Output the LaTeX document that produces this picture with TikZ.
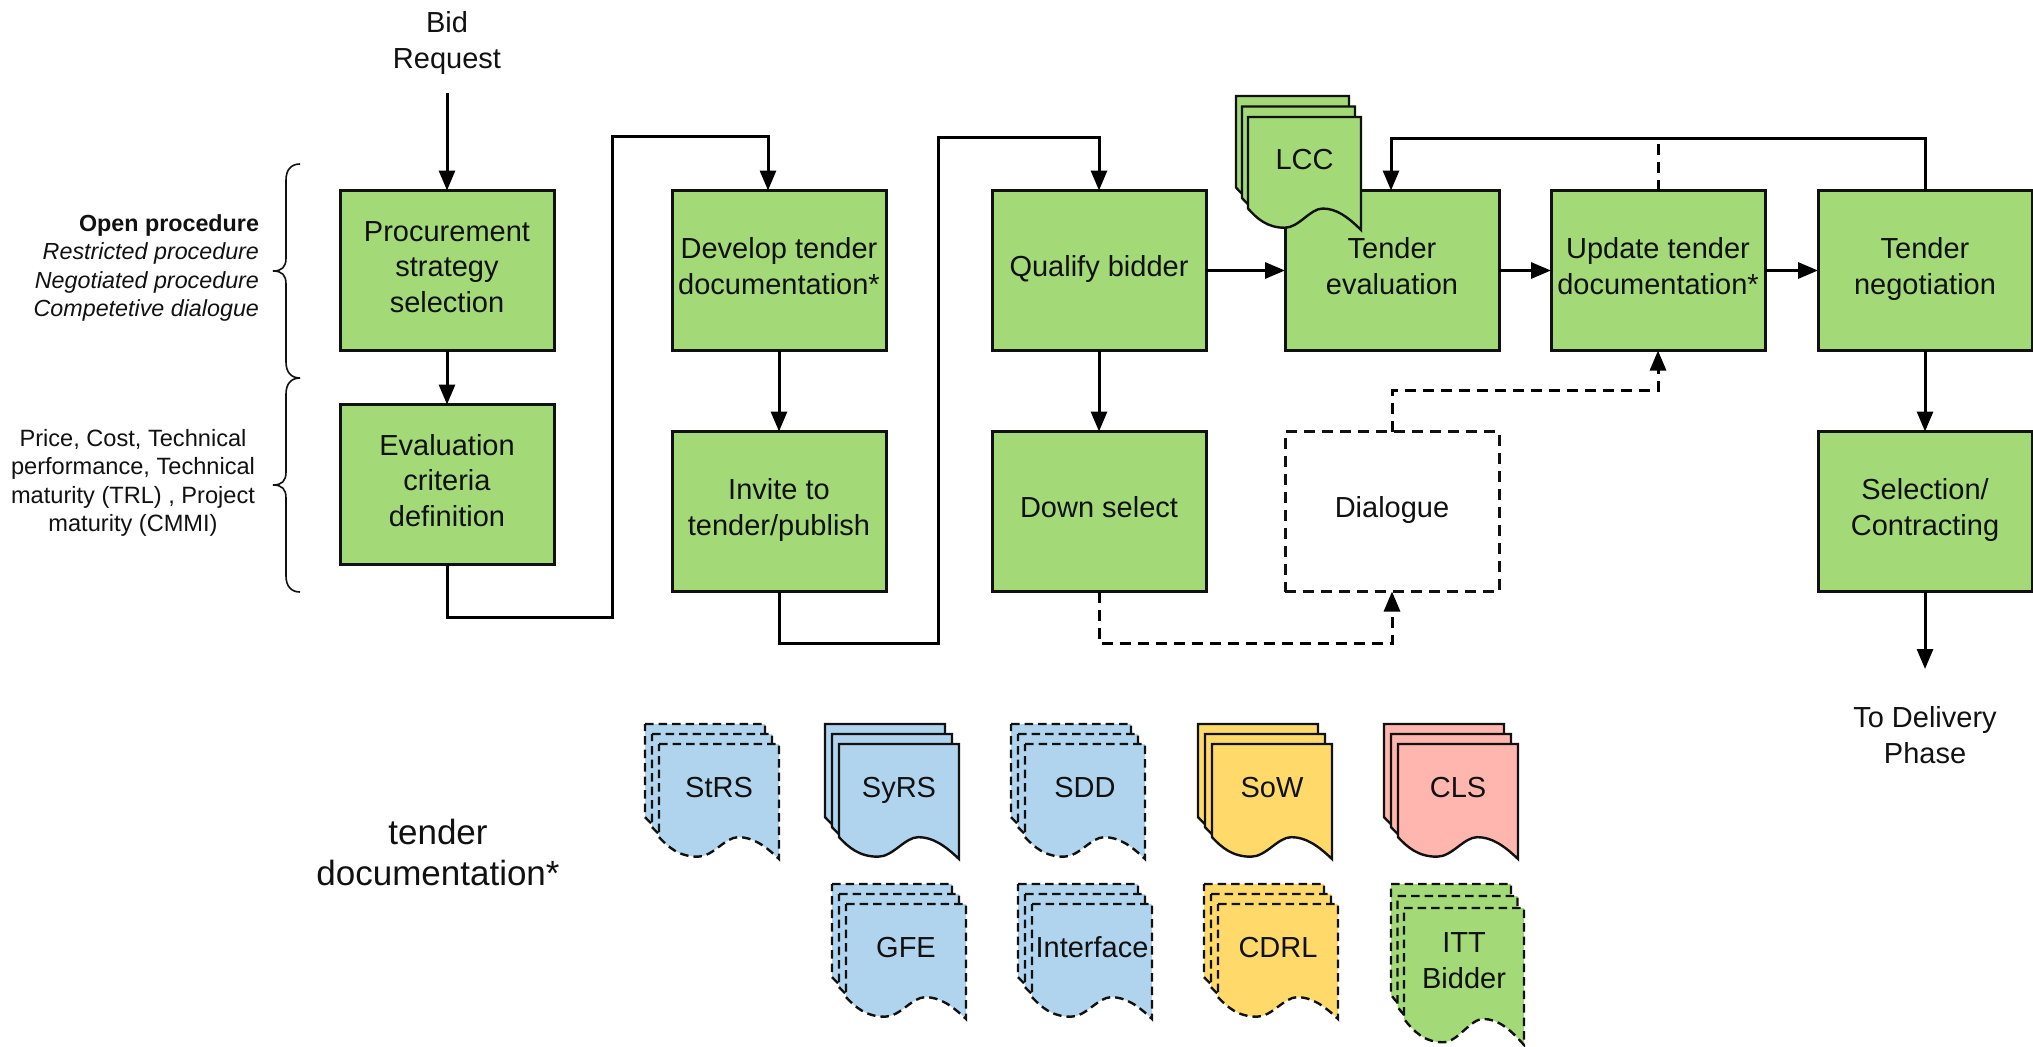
\documentclass[tikz,border=0pt]{standalone}
\usepackage{fontspec}
\setmainfont{Liberation Sans}
\usetikzlibrary{arrows.meta,calc}
\definecolor{gfill}{HTML}{A3D977}
\definecolor{bfill}{HTML}{B1D4EE}
\definecolor{yfill}{HTML}{FFDA6A}
\definecolor{pfill}{HTML}{FFB6AE}
\definecolor{ink}{HTML}{111111}
\newcommand{\st}{\rule[-11pt]{0pt}{34pt}}
\newcommand{\sheet}[5]{%
  \begin{scope}[shift={(#1,#2)},x=#3pt,y=-#4pt]
    \draw[#5] (0,0) -- (1,0) -- (1,1) .. controls (.88,.88) and (.78,.81) .. (.66,.81)
      .. controls (.55,.81) and (.45,.98) .. (.325,.98)
      .. controls (.17,.98) and (.08,.90) .. (0,.81) -- cycle;
  \end{scope}}
% name, x, y, w, h, dx, dy, style, text
\newcommand{\docstack}[9]{%
  \sheet{{#2-2*#6}}{{#3-2*#7}}{#4}{#5}{#8}
  \sheet{{#2-#6}}{{#3-#7}}{#4}{#5}{#8}
  \sheet{#2}{#3}{#4}{#5}{#8}
  \node[lbl] (#1) at ({#2+#4/2},{#3+.413*#5}) {#9};}
\newcommand{\curly}[1]{%
  \begin{scope}[shift={(0,#1)}]
    \draw[bracket] (300,0) .. controls (291,0) and (286,6) .. (286,16) -- (286,94)
      .. controls (286,103) and (282,107) .. (273,107)
      .. controls (282,107) and (286,111) .. (286,120) -- (286,198)
      .. controls (286,208) and (291,214) .. (300,214);
  \end{scope}}
\tikzset{
  box/.style={draw=ink,line width=3pt,fill=gfill,minimum width=214pt,minimum height=160pt,inner sep=0pt,outer sep=0pt,align=center,font=\fontsize{29}{35.5}\selectfont,text=ink},
  dlgbox/.style={box,fill=white,dash pattern=on 11pt off 7pt},
  lbl/.style={inner sep=0pt,outer sep=0pt,align=center,font=\fontsize{29}{35.5}\selectfont,text=ink},
  sidelbl/.style={inner sep=0pt,outer sep=0pt,font=\fontsize{23.6}{28.4}\selectfont,text=ink},
  listlbl/.style={sidelbl,font=\fontsize{23.3}{28.4}\selectfont},
  arr/.style={draw=black,line width=3pt,-{Triangle[length=20pt,width=16pt]}},
  flow/.style={draw=black,line width=3pt},
  darr/.style={arr,dash pattern=on 11pt off 7pt},
  dflow/.style={flow,dash pattern=on 11pt off 7pt},
  bracket/.style={draw=ink,line width=1.6pt},
  solidsheet/.style={draw=ink,line width=2.4pt,line join=miter},
  dashsheet/.style={draw=ink,line width=2.4pt,dash pattern=on 8.5pt off 5pt},
  gs/.style={solidsheet,fill=gfill}, bs/.style={solidsheet,fill=bfill},
  ys/.style={solidsheet,fill=yfill}, ps/.style={solidsheet,fill=pfill},
  gd/.style={dashsheet,fill=gfill}, bd/.style={dashsheet,fill=bfill},
  yd/.style={dashsheet,fill=yfill},
}
\begin{document}
\begin{tikzpicture}[x=1pt,y=-1pt]
\useasboundingbox (0,0) rectangle (2033,1046);
% boxes
\node[box] (proc) at (447,270.5) {\st Procurement\\\st strategy\\\st selection};
\node[box] (eval) at (447,484.5) {\st Evaluation\\\st criteria\\\st definition};
\node[box] (dev) at (779,270.5) {\st Develop tender\\\st documentation*};
\node[box] (inv) at (779,511.5) {\st Invite to\\\st tender/publish};
\node[box] (qual) at (1099,270.5) {\st Qualify bidder};
\node[box] (down) at (1099,511.5) {\st Down select};
\node[box] (teval) at (1392,270.5) {\st Tender\\\st evaluation};
\node[box] (upd) at (1658,270.5) {\st Update tender\\\st documentation*};
\node[box] (neg) at (1925,270.5) {\st Tender\\\st negotiation};
\node[box] (sel) at (1925,511.5) {\st Selection/\\\st Contracting};
\node[dlgbox] (dlg) at (1392,511.5) {\st Dialogue};
% free texts
\node[lbl] (bid) at (447,43) {Bid\\Request};
\node[lbl] (todel) at (1925,735) {To Delivery\\Phase};
\node[listlbl,align=right,anchor=east] (proclist) at (259,268) {\textbf{Open procedure}\\\textit{Restricted procedure}\\\textit{Negotiated procedure}\\\textit{Competetive dialogue}};
\node[sidelbl,align=center] (crit) at (133,483) {Price, Cost, Technical\\performance, Technical\\maturity (TRL) , Project\\maturity (CMMI)};
\node[inner sep=0pt,align=center,font=\fontsize{35}{41}\selectfont,text=ink] (tdoc) at (438,852) {tender\\documentation*};
\curly{164}
\curly{378}
% coordinates
\coordinate (bidend) at (447,93);
\coordinate (a1) at (447,617);
\coordinate (a2) at (612,617);
\coordinate (a3) at (612,136);
\coordinate (a4) at (768,136);
\coordinate (a5) at (768,190.5);
\coordinate (b1) at (779,643);
\coordinate (b2) at (938.5,643);
\coordinate (b3) at (938.5,137);
\coordinate (b4) at (1099,137);
\coordinate (c1) at (1925,138);
\coordinate (c2) at (1391,138);
\coordinate (c3) at (1391,190.5);
\coordinate (c4) at (1658,138);
\coordinate (d1) at (1099,643);
\coordinate (d2) at (1392,643);
\coordinate (e1) at (1392,390);
\coordinate (e2) at (1658,390);
\coordinate (f1) at (1925,669);
% connectors
\draw[arr] (bidend) -- (proc.north);
\draw[arr] (proc.south) -- (eval.north);
\draw[arr] (eval.south) -- (a1) -- (a2) -- (a3) -- (a4) -- (a5);
\draw[arr] (dev.south) -- (inv.north);
\draw[arr] (inv.south) -- (b1) -- (b2) -- (b3) -- (b4) -- (qual.north);
\draw[arr] (qual.south) -- (down.north);
\draw[arr] (qual.east) -- (teval.west);
\draw[arr] (teval.east) -- (upd.west);
\draw[arr] (upd.east) -- (neg.west);
\draw[arr] (neg.north) -- (c1) -- (c2) -- (c3);
\draw[dflow] (upd.north) -- (c4);
\draw[arr] (neg.south) -- (sel.north);
\draw[arr] (sel.south) -- (f1);
\draw[darr] (down.south) -- (d1) -- (d2) -- (dlg.south);
\draw[darr] (dlg.north) -- (e1) -- (e2) -- (upd.south);
% documents
\docstack{lcc}{1248}{117}{113}{113}{6}{10.5}{gs}{\st LCC}
\docstack{strs}{659}{744}{120}{115}{7}{10}{bd}{\st StRS}
\docstack{syrs}{839}{744}{120}{115}{7}{10}{bs}{\st SyRS}
\docstack{sdd}{1025}{744}{120}{115}{7}{10}{bd}{\st SDD}
\docstack{sow}{1212}{744}{120}{115}{7}{10}{ys}{\st SoW}
\docstack{cls}{1398}{744}{120}{115}{7}{10}{ps}{\st CLS}
\docstack{gfe}{846}{904}{120}{115}{7}{10}{bd}{\st GFE}
\docstack{iface}{1032}{904}{120}{115}{7}{10}{bd}{\st Interface}
\docstack{cdrl}{1218}{904}{120}{115}{7}{10}{yd}{\st CDRL}
\docstack{itt}{1404}{908}{120}{137}{6.5}{12}{gd}{\st ITT\\\st Bidder}
\end{tikzpicture}
\end{document}
